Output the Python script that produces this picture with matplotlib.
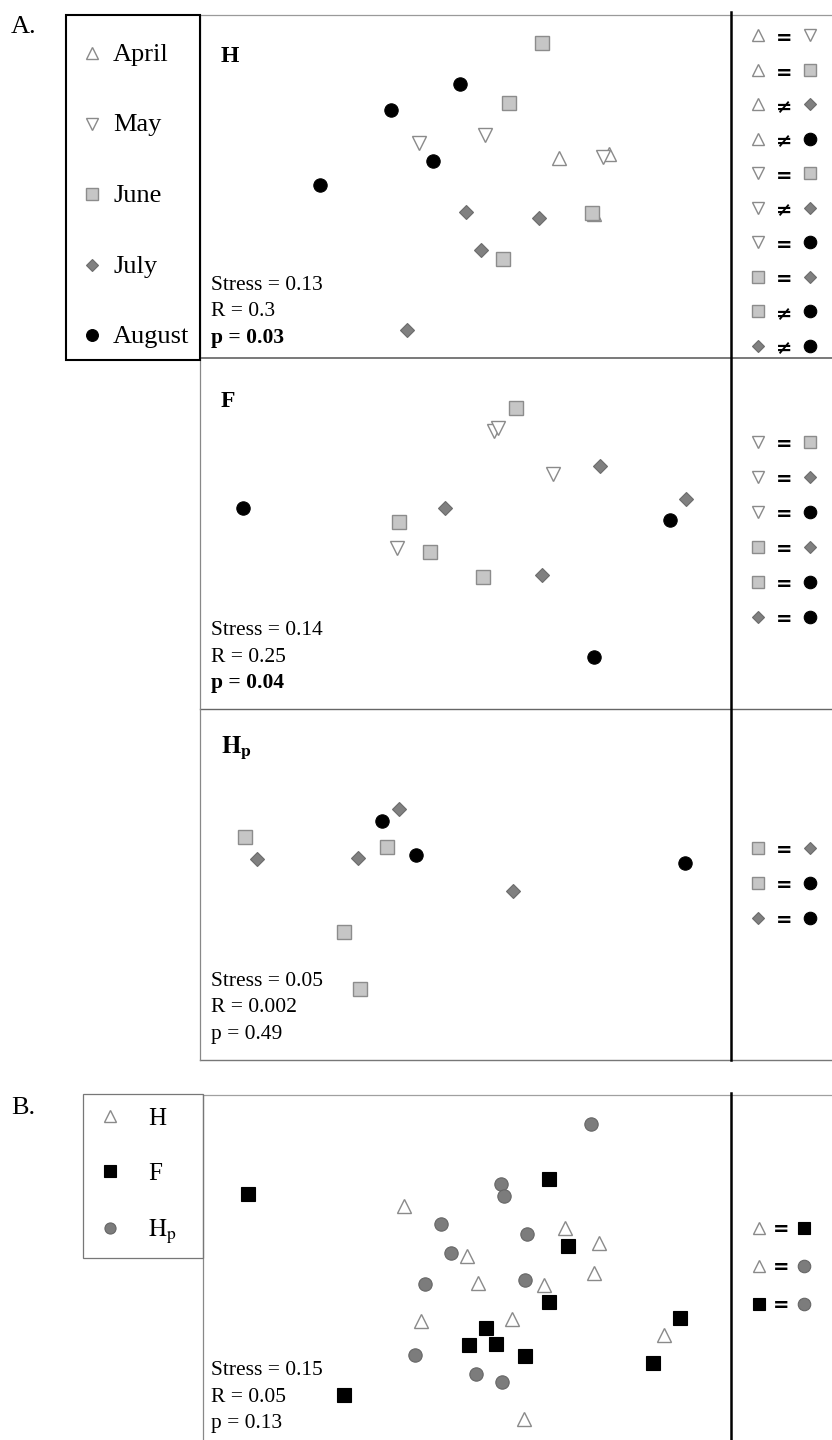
import matplotlib
matplotlib.use('Agg')
import matplotlib.pyplot as plt
from matplotlib.patches import Rectangle

plt.rcParams['font.family'] = ['Liberation Serif', 'DejaVu Serif']
plt.rcParams['mathtext.fontset'] = 'stix'

W, H = 832, 1440

# point positions, in figure pixels (x right, y down)
MONTHS = ['April', 'May', 'June', 'July', 'August']

H_X = [594, 559, 609, 485, 419, 603, 542, 509, 592, 503, 466, 539, 481, 407, 460, 391, 433, 320]
H_Y = [214, 158, 154, 135, 143, 157, 43, 103, 213, 259, 212, 218, 250, 330, 84, 110, 161, 185]
H_MONTH = ['April'] * 3 + ['May'] * 3 + ['June'] * 4 + ['July'] * 4 + ['August'] * 4

F_X = [494, 498, 553, 397, 516, 399, 430, 483, 600, 686, 445, 542, 243, 670, 594]
F_Y = [431, 428, 474, 548, 408, 522, 552, 577, 466, 499, 508, 575, 508, 520, 657]
F_MONTH = ['May'] * 4 + ['June'] * 4 + ['July'] * 4 + ['August'] * 3

HP_X = [245, 387, 344, 360, 399, 257, 358, 513, 382, 416, 685]
HP_Y = [837, 847, 932, 989, 809, 859, 858, 891, 821, 855, 863]
HP_MONTH = ['June'] * 4 + ['July'] * 4 + ['August'] * 3

SITES = ['H', 'F', 'Hp']
B_X = [404, 565, 599, 467, 594, 478, 544, 421, 512, 664, 524,
       248, 549, 568, 549, 486, 680, 469, 496, 525, 653, 344,
       591, 501, 504, 441, 527, 451, 425, 525, 415, 476, 502]
B_Y = [1206, 1228, 1243, 1256, 1273, 1283, 1285, 1321, 1319, 1335, 1419,
       1194, 1179, 1246, 1302, 1328, 1318, 1345, 1344, 1356, 1363, 1395,
       1124, 1184, 1196, 1224, 1234, 1253, 1284, 1280, 1355, 1374, 1382]
B_SITE = ['H'] * 11 + ['F'] * 11 + ['Hp'] * 11

H_TESTS = [('April', '=', 'May'), ('April', '=', 'June'), ('April', '≠', 'July'),
           ('April', '≠', 'August'), ('May', '=', 'June'), ('May', '≠', 'July'),
           ('May', '=', 'August'), ('June', '=', 'July'), ('June', '≠', 'August'),
           ('July', '≠', 'August')]
F_TESTS = [('May', '=', 'June'), ('May', '=', 'July'), ('May', '=', 'August'),
           ('June', '=', 'July'), ('June', '=', 'August'), ('July', '=', 'August')]
HP_TESTS = [('June', '=', 'July'), ('June', '=', 'August'), ('July', '=', 'August')]
B_TESTS = [('H', '=', 'F'), ('H', '=', 'Hp'), ('F', '=', 'Hp')]

H_STATS = ['Stress = 0.13', 'R = 0.3', 'p = 0.03']
F_STATS = ['Stress = 0.14', 'R = 0.25', 'p = 0.04']
HP_STATS = ['Stress = 0.05', 'R = 0.002', 'p = 0.49']
B_STATS = ['Stress = 0.15', 'R = 0.05', 'p = 0.13']

STYLE = {
    'April': dict(marker='^', mfc='white', mec='#8a8a8a', mew=1.0, scale=1.0),
    'May': dict(marker='v', mfc='white', mec='#8a8a8a', mew=1.0, scale=1.0),
    'June': dict(marker='s', mfc='#c6c6c6', mec='#8c8c8c', mew=1.0, scale=1.0),
    'July': dict(marker='D', mfc='#808080', mec='#6c6c6c', mew=0.8, scale=0.72),
    'August': dict(marker='o', mfc='black', mec='black', mew=0.8, scale=1.0),
    'H': dict(marker='^', mfc='white', mec='#8a8a8a', mew=1.0, scale=1.0),
    'F': dict(marker='s', mfc='black', mec='black', mew=0.8, scale=1.0),
    'Hp': dict(marker='o', mfc='#7c7c7c', mec='#666666', mew=0.8, scale=1.0),
}


def mark(ax, x, y, key, size, z=3):
    st = dict(STYLE[key])
    scale = st.pop('scale')
    ax.plot(x, y, linestyle='none', markersize=size * scale, zorder=z, **st)


fig = plt.figure(figsize=(W / 100, H / 100), dpi=100)
ax = fig.add_axes([0, 0, 1, 1])
ax.set_xlim(0, W)
ax.set_ylim(H, 0)
ax.axis('off')

# frame lines
ax.plot([200, 832], [15, 15], color='#9a9a9a', lw=0.9)
ax.plot([200, 832], [358, 358], color='#555555', lw=1.1)
ax.plot([200, 832], [709, 709], color='#666666', lw=1.0)
ax.plot([200, 832], [1060, 1060], color='#777777', lw=1.0)
ax.plot([200, 200], [15, 1060], color='#888888', lw=0.9)
ax.plot([731, 731], [12, 1060], color='black', lw=1.8)
ax.add_patch(Rectangle((66, 15), 134, 345, fill=False, ec='black', lw=1.5, zorder=4))

ax.plot([203, 832], [1095, 1095], color='#a0a0a0', lw=0.9)
ax.plot([203, 203], [1095, 1440], color='#888888', lw=0.9)
ax.plot([731, 731], [1093, 1440], color='black', lw=1.8)
ax.add_patch(Rectangle((83, 1094), 120, 164, fill=False, ec='#777777', lw=0.9, zorder=4))

ax.text(11, 33, 'A.', fontsize=19, va='baseline')
ax.text(11, 1114, 'B.', fontsize=19, va='baseline')

# legend A
for i, m in enumerate(MONTHS):
    y = 53 + i * 70.5
    mark(ax, 92, y, m, 8.5)
    ax.text(113, y + 8, m, fontsize=19, va='baseline')

# legend B
for i, s in enumerate(SITES):
    y = [1116, 1171, 1228][i]
    mark(ax, 110, y, s, 8.0)
    lab = r'$\mathrm{H}_{\mathrm{p}}$' if s == 'Hp' else s
    ax.text(148, y + 9, lab, fontsize=18, va='baseline')


def scatter(xs, ys, groups, order):
    for g in order:
        px = [x for x, k in zip(xs, groups) if k == g]
        py = [y for y, k in zip(ys, groups) if k == g]
        mark(ax, px, py, g, 9.6)


def stats(lines, y0, bold_p):
    for i, t in enumerate(lines):
        w = 'bold' if (bold_p and i == 2) else 'normal'
        ax.text(211, y0 + i * 26.5, t, fontsize=15.5, fontweight=w, va='baseline')


def tests(rows, y0, step, xs, drop):
    for i, (a, rel, b) in enumerate(rows):
        y = y0 + i * step
        mark(ax, xs[0], y, a, 9.0)
        ax.text(xs[1], y + drop, rel, fontsize=14, fontweight='bold', family='DejaVu Sans',
                ha='center', va='baseline')
        mark(ax, xs[2], y, b, 9.0)


scatter(H_X, H_Y, H_MONTH, MONTHS)
scatter(F_X, F_Y, F_MONTH, MONTHS)
scatter(HP_X, HP_Y, HP_MONTH, MONTHS)
scatter(B_X, B_Y, B_SITE, SITES)

ax.text(221, 62, 'H', fontsize=17, fontweight='bold', va='baseline')
ax.text(221, 407, 'F', fontsize=17, fontweight='bold', va='baseline')
ax.text(221, 753, r'$\mathbf{H}_{\mathbf{p}}$', fontsize=18, va='baseline')

stats(H_STATS, 290, True)
stats(F_STATS, 635, True)
stats(HP_STATS, 986, False)
stats(B_STATS, 1375, False)

tests(H_TESTS, 35, 34.5, (758, 784, 810), 9)
tests(F_TESTS, 442, 35, (758, 784, 810), 8)
tests(HP_TESTS, 848, 35, (758, 784, 810), 8)
tests(B_TESTS, 1228, 38, (759, 781, 804), 7)

fig.savefig('out.png', dpi=100)
